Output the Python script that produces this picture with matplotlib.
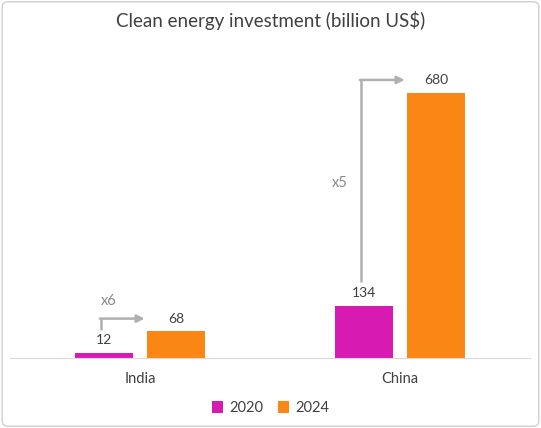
import matplotlib.pyplot as plt
import numpy as np
from matplotlib.patches import FancyBboxPatch

plt.rcParams['font.family'] = ['Lato', 'DejaVu Sans']

# Data
countries = ['India', 'China']
years = ['2020', '2024']
invest_2020 = [12, 134]
invest_2024 = [68, 680]
growth_labels = ['x6', 'x5']

col_2020 = '#D71AB2'
col_2024 = '#FA8714'
arrow_col = '#B0B0B0'
text_col = '#404040'

fig = plt.figure(figsize=(5.41, 4.28), dpi=100)
ax = fig.add_axes([10 / 541, 1 - 358 / 428, 520 / 541, 312 / 428])

x = np.arange(len(countries))
w = 0.2235
off = 0.14
b1 = ax.bar(x - off, invest_2020, w, color=col_2020, label=years[0])
b2 = ax.bar(x + off, invest_2024, w, color=col_2024, label=years[1])

for bars in (b1, b2):
    for r in bars:
        ax.annotate(f'{r.get_height():g}', (r.get_x() + r.get_width() / 2, r.get_height()),
                    xytext=(0, 5), textcoords='offset points', ha='center', va='bottom',
                    fontsize=10, color=text_col)

# growth arrows
for i in range(len(countries)):
    xs = x[i] - off - 0.01
    y0 = invest_2020[i] + 60
    y1 = invest_2024[i] + 33
    xe = x[i] + off - w / 2 - 0.01
    ax.plot([xs, xs], [y0, y1], color=arrow_col, lw=1.8, solid_capstyle='butt')
    ax.annotate('', xy=(xe, y1), xytext=(xs - 0.004, y1),
                arrowprops=dict(arrowstyle='-|>,head_length=0.45,head_width=0.22',
                                color=arrow_col, lw=1.8, shrinkA=0, shrinkB=0))
ax.text(x[0] - off + 0.02, 147, growth_labels[0], ha='center', va='center', fontsize=10.5, color='#8a8a8a')
ax.text(x[1] - off - 0.09, 450, growth_labels[1], ha='center', va='center', fontsize=10.5, color='#8a8a8a')

ax.set_xlim(-0.5, 1.5)
ax.set_ylim(0, 800)
ax.set_xticks(x)
ax.set_xticklabels(countries, fontsize=10.5, color=text_col)
ax.tick_params(axis='x', length=0, pad=10)
ax.set_yticks([])
for s in ['top', 'right', 'left']:
    ax.spines[s].set_visible(False)
ax.spines['bottom'].set_color('#d9d9d9')

fig.text(0.5, 1 - 20 / 428, 'Clean energy investment (billion US$)', ha='center', va='center',
         fontsize=13.5, color=text_col)

fig.legend(loc='center', bbox_to_anchor=(0.5, 1 - 408 / 428), ncol=2, frameon=False,
           fontsize=10.5, handlelength=0.8, handleheight=0.8, columnspacing=1.0, handletextpad=0.4,
           labelcolor=text_col)

border = FancyBboxPatch((0.004, 0.004), 0.992, 0.992, boxstyle='round,pad=0,rounding_size=0.012',
                        transform=fig.transFigure, fill=False, edgecolor='#d0d0d0', lw=1)
fig.patches.append(border)

fig.savefig('out.png', dpi=100)
